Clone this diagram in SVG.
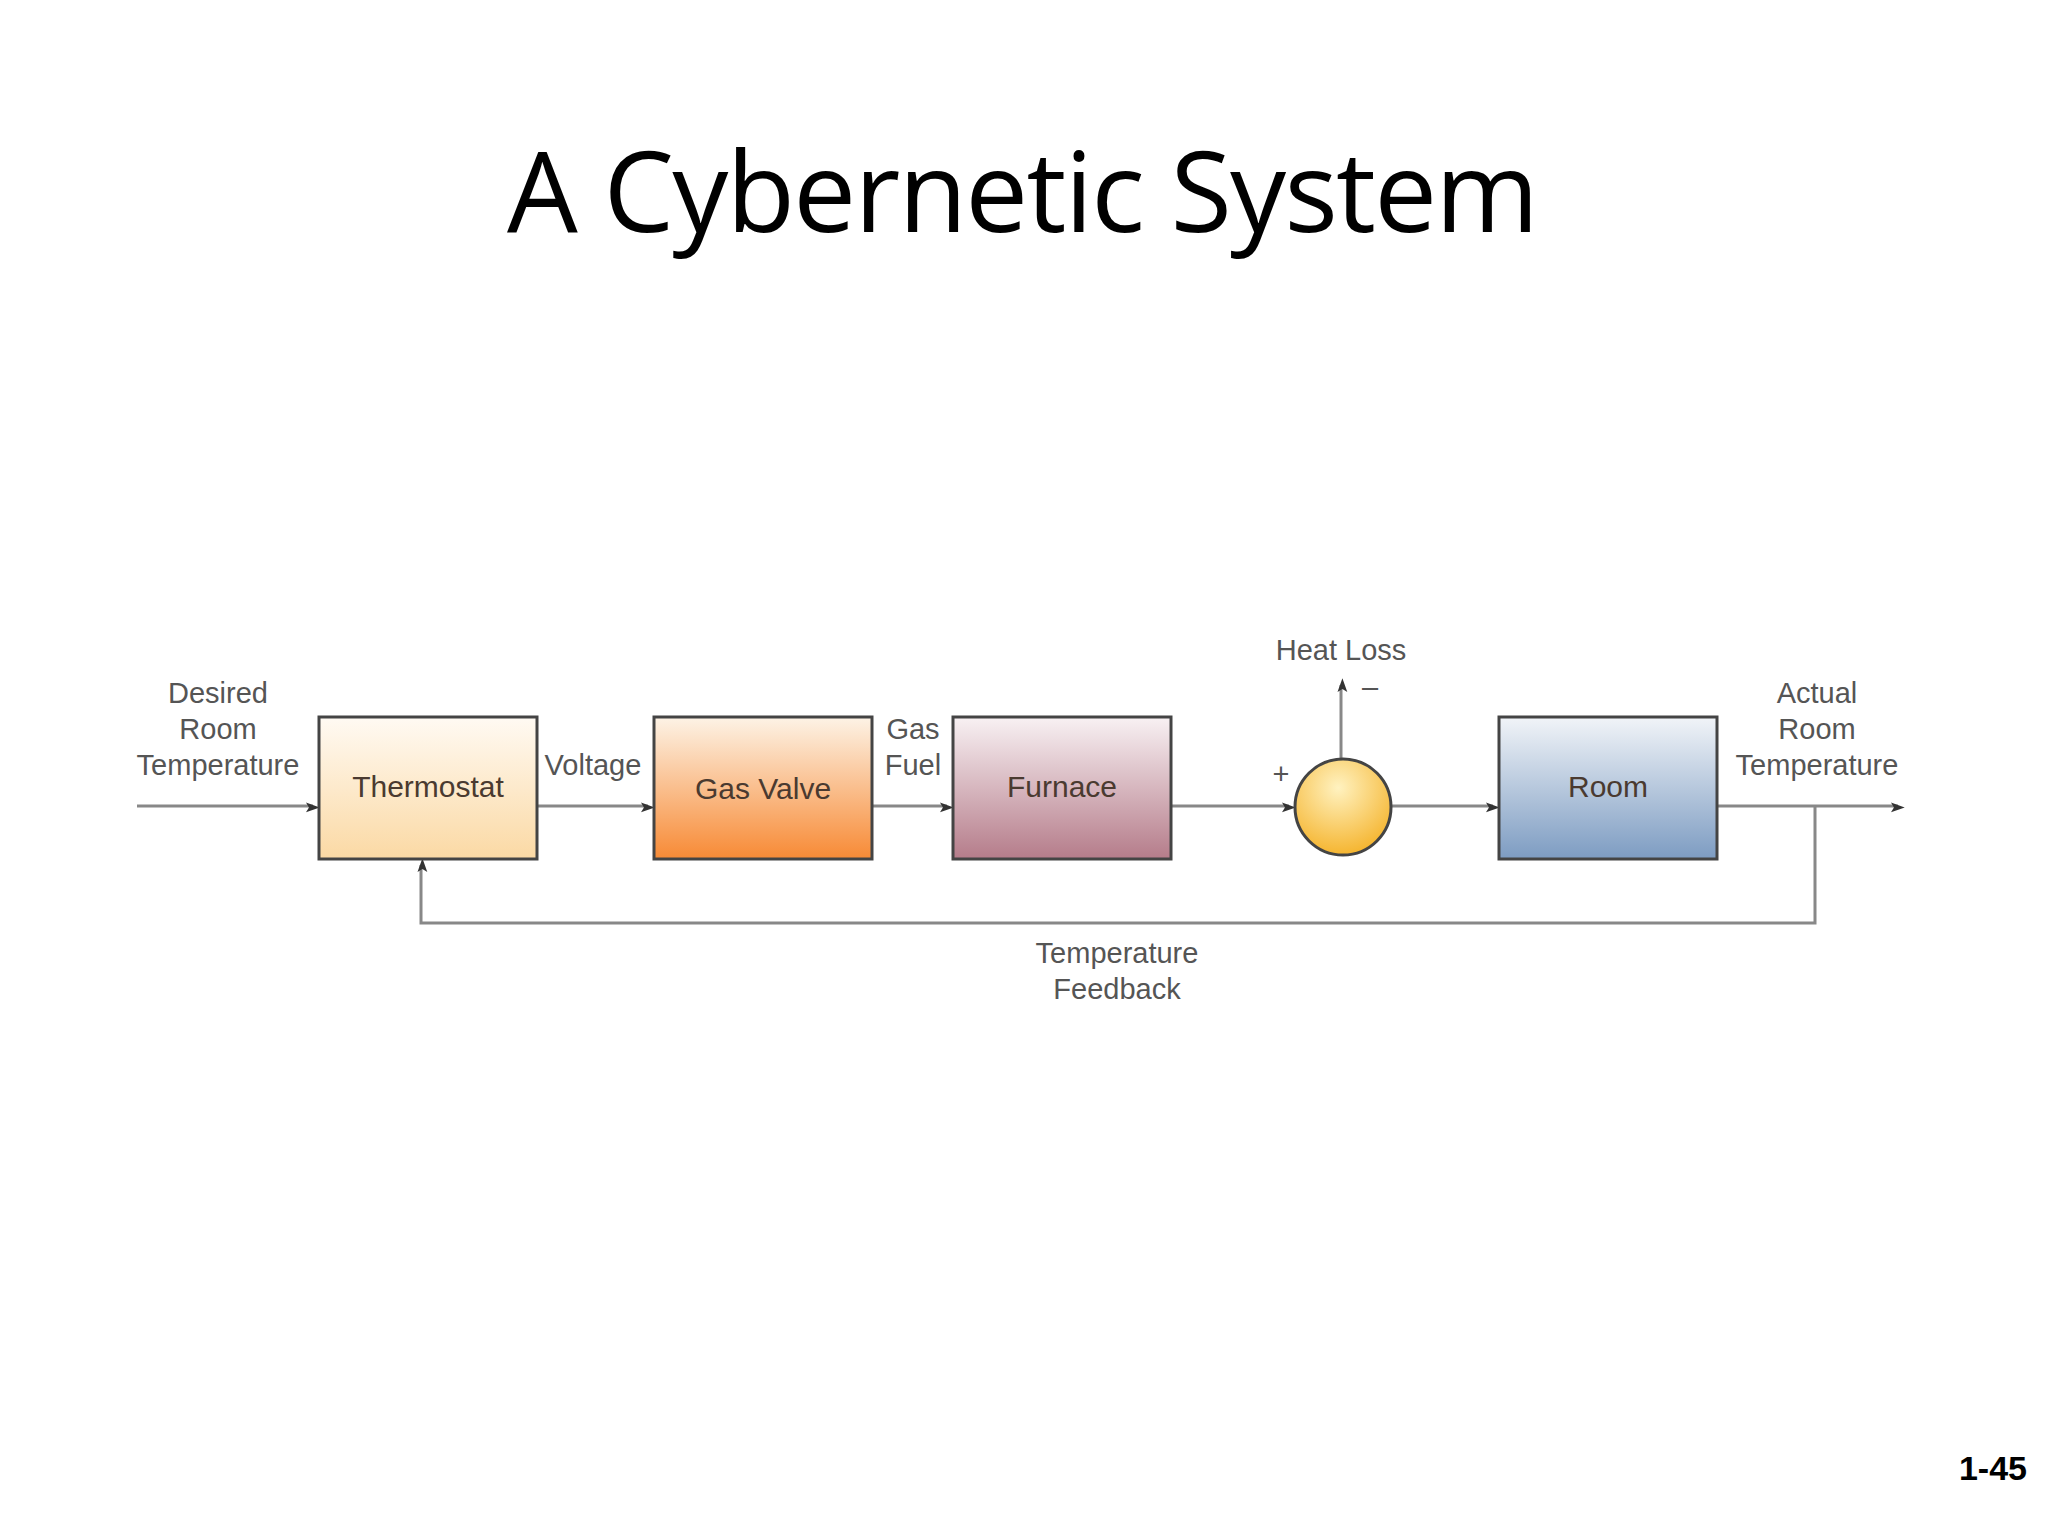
<svg xmlns="http://www.w3.org/2000/svg" width="2048" height="1536" viewBox="0 0 2048 1536">
<style>
.t{font-family:"Liberation Sans",Arial,sans-serif;font-size:29px;fill:#555;text-anchor:middle}
.bt{font-family:"Liberation Sans",Arial,sans-serif;font-size:30px;fill:#4a3a30;text-anchor:middle}
.box{stroke:#444;stroke-width:3}
.ln{stroke:#888;stroke-width:3;fill:none}
</style>
<defs>
<linearGradient id="g1" x1="0" y1="0" x2="0" y2="1"><stop offset="0" stop-color="#fffaf3"/><stop offset="1" stop-color="#fbd9a4"/></linearGradient>
<linearGradient id="g2" x1="0" y1="0" x2="0" y2="1"><stop offset="0" stop-color="#fdf3e6"/><stop offset="1" stop-color="#f78a35"/></linearGradient>
<linearGradient id="g3" x1="0" y1="0" x2="0" y2="1"><stop offset="0" stop-color="#f8f1f3"/><stop offset="1" stop-color="#b57c8a"/></linearGradient>
<linearGradient id="g4" x1="0" y1="0" x2="0" y2="1"><stop offset="0" stop-color="#f1f4f8"/><stop offset="1" stop-color="#7d9cc2"/></linearGradient>
<radialGradient id="g5" cx="0.45" cy="0.3" r="0.7"><stop offset="0" stop-color="#fff2c0"/><stop offset="1" stop-color="#f5b530"/></radialGradient>
<marker id="a" viewBox="0 0 10 10" refX="10" refY="5" markerWidth="7" markerHeight="7" markerUnits="userSpaceOnUse" orient="auto" style="overflow:visible"><path d="M0,0 L14,5 L0,10 L3,5 Z" fill="#333" transform="scale(1.4)"/></marker>
</defs>
<rect width="2048" height="1536" fill="#fff"/>
<text x="1023" y="232" font-family="'Open Sans','Liberation Sans',sans-serif" font-size="112" fill="#000" text-anchor="middle" textLength="1032">A Cybernetic System</text>
<g id="connectors">
<line class="ln" x1="137" y1="806" x2="313" y2="806" marker-end="url(#a)"/>
<line class="ln" x1="537" y1="806" x2="648" y2="806" marker-end="url(#a)"/>
<line class="ln" x1="872" y1="806" x2="947" y2="806" marker-end="url(#a)"/>
<line class="ln" x1="1171" y1="806" x2="1289" y2="806" marker-end="url(#a)"/>
<line class="ln" x1="1391" y1="806" x2="1493" y2="806" marker-end="url(#a)"/>
<line class="ln" x1="1717" y1="806" x2="1898" y2="806" marker-end="url(#a)"/>
<line class="ln" x1="1341" y1="759" x2="1341" y2="685" marker-end="url(#a)"/>
<polyline class="ln" points="1815,806 1815,923 421,923 421,865" marker-end="url(#a)"/>
</g>
<g id="thermostat"><rect class="box" x="319" y="717" width="218" height="142" fill="url(#g1)"/><text class="bt" x="428" y="797">Thermostat</text></g>
<g id="gasvalve"><rect class="box" x="654" y="717" width="218" height="142" fill="url(#g2)"/><text class="bt" x="763" y="799">Gas Valve</text></g>
<g id="furnace"><rect class="box" x="953" y="717" width="218" height="142" fill="url(#g3)"/><text class="bt" x="1062" y="797">Furnace</text></g>
<g id="sum"><circle cx="1343" cy="807" r="48" fill="url(#g5)" stroke="#444" stroke-width="3"/></g>
<g id="room"><rect class="box" x="1499" y="717" width="218" height="142" fill="url(#g4)"/><text class="bt" x="1608" y="797">Room</text></g>
<g id="labels">
<text class="t" x="218" y="703">Desired</text><text class="t" x="218" y="739">Room</text><text class="t" x="218" y="775">Temperature</text>
<text class="t" x="593" y="775">Voltage</text>
<text class="t" x="913" y="739">Gas</text><text class="t" x="913" y="775">Fuel</text>
<text class="t" x="1341" y="660">Heat Loss</text>
<text class="t" x="1370" y="697" font-size="22">–</text>
<text class="t" x="1281" y="784" font-size="22">+</text>
<text class="t" x="1817" y="703">Actual</text><text class="t" x="1817" y="739">Room</text><text class="t" x="1817" y="775">Temperature</text>
<text class="t" x="1117" y="963">Temperature</text><text class="t" x="1117" y="999">Feedback</text>
</g>
<text x="2027" y="1480" font-family="'Liberation Sans',Arial,sans-serif" font-weight="bold" font-size="34" text-anchor="end">1-45</text>
</svg>
